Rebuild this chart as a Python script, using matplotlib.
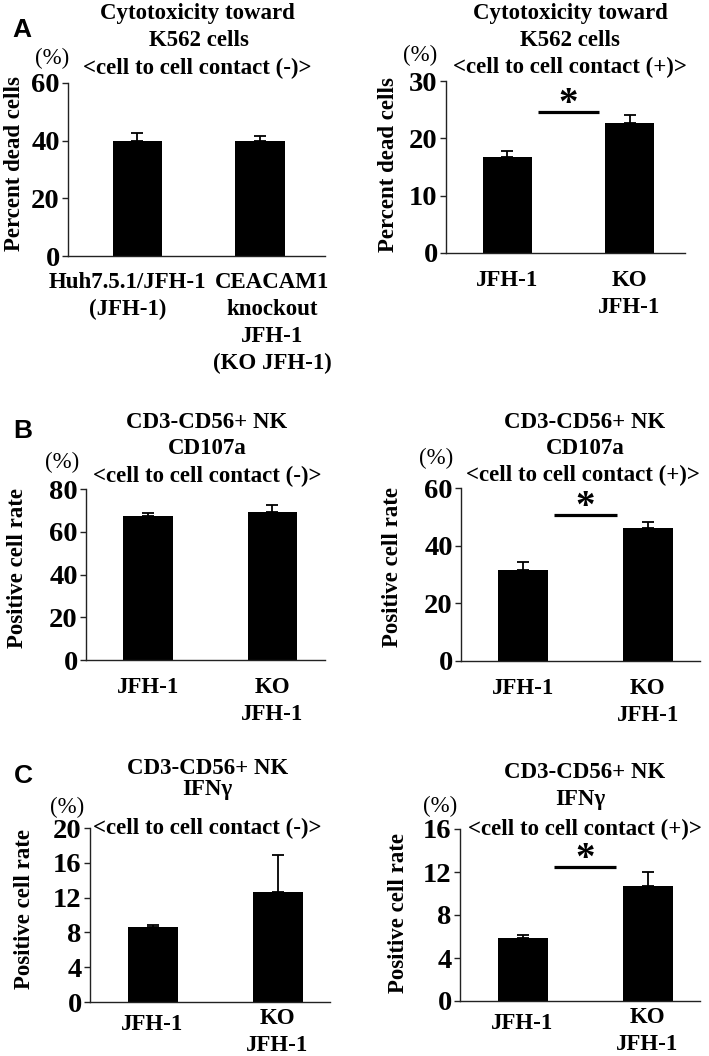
import matplotlib
matplotlib.use("Agg")
import matplotlib.pyplot as plt
from matplotlib.transforms import ScaledTranslation

W, H, DPI = 709, 1056, 100
SERIF = ["Liberation Serif", "DejaVu Serif"]
SANS = ["Liberation Sans", "DejaVu Sans"]

# ---- data ----
labels_a_minus = ["Huh7.5.1/JFH-1\n(JFH-1)", "CEACAM1\nknockout\nJFH-1\n(KO JFH-1)"]
labels_short = ["JFH-1", "KO\nJFH-1"]

dead_minus = [40.0, 39.9]
dead_minus_err = [2.8, 1.8]
dead_plus = [16.8, 22.7]
dead_plus_err = [1.0, 1.4]

cd107a_minus = [67.5, 69.1]
cd107a_minus_err = [1.1, 3.4]
cd107a_plus = [31.5, 46.3]
cd107a_plus_err = [2.7, 2.0]

ifng_minus = [8.6, 12.7]
ifng_minus_err = [0.26, 4.15]
ifng_plus = [5.9, 10.7]
ifng_plus_err = [0.28, 1.27]

fig = plt.figure(figsize=(W / DPI, H / DPI), dpi=DPI)
fig.patch.set_facecolor("white")


def fx(x):
    return x / W


def fy(y):
    return 1 - y / H


def text_px(x, y, s, size=16.5, weight="bold", family=SERIF, **kw):
    fig.text(fx(x), fy(y), s, fontsize=size, fontweight=weight, family=family,
             ha=kw.pop("ha", "center"), va=kw.pop("va", "center"), **kw)


def panel(box, xlim, means, errs, ymax, step, labels, tickpos, pad, sig=None):
    left, top, right, bottom = box
    ax = fig.add_axes([fx(left), fy(bottom), (right - left) / W, (bottom - top) / H])
    xs = list(range(len(means)))
    ax.bar(xs, means, width=0.40, color="black", zorder=2)
    ax.errorbar(xs, means, yerr=[[0] * len(errs), errs], fmt="none",
                ecolor="black", elinewidth=1.3, capsize=4.5, capthick=1.3, zorder=1)
    ax.set_xlim(*xlim)
    ax.set_ylim(0, ymax)
    ax.set_yticks(range(0, ymax + 1, step))
    ax.set_xticks(tickpos, labels)
    for sp in ("top", "right"):
        ax.spines[sp].set_visible(False)
    for sp in ("left", "bottom"):
        ax.spines[sp].set_linewidth(1.0)
        ax.spines[sp].set_color("#222222")
    ax.tick_params(axis="y", length=4, width=1.0, pad=2, labelsize=20.5, color="#222222")
    ax.tick_params(axis="x", length=0, pad=pad, labelsize=16.5)
    for lab in ax.get_yticklabels():
        lab.set_family(SERIF)
        lab.set_fontweight("bold")
    for lab in ax.get_xticklabels():
        lab.set_family(SERIF)
        lab.set_fontweight("bold")
        lab.set_linespacing(1.38)
        lab.set_va("top")
    if sig is not None:
        ax.plot([0.25, 0.75], [sig, sig], color="black", lw=2.3, solid_capstyle="butt")
        ax.annotate("*", xy=(0.5, sig), xytext=(0, -1.5), textcoords="offset points",
                    ha="center", va="baseline", fontsize=28, fontweight="bold",
                    family=SERIF)
    return ax


# ---- panel A ----
panel((68, 83, 325, 256), (-0.566, 1.53), dead_minus, dead_minus_err, 60, 20,
      labels_a_minus, [-0.08, 1.1], 11.5)
panel((446, 81, 685, 253), (-0.503, 1.454), dead_plus, dead_plus_err, 30, 10,
      labels_short, [0, 1], 12, sig=24.6)

# ---- panel B ----
panel((86, 489, 325, 660), (-0.497, 1.422), cd107a_minus, cd107a_minus_err, 80, 20,
      labels_short, [0, 1], 12)
panel((461, 488, 700, 661), (-0.5, 1.42), cd107a_plus, cd107a_plus_err, 60, 20,
      labels_short, [0, 1], 12, sig=50.7)

# ---- panel C ----
axc1 = panel((90, 828, 330, 1002), (-0.5, 1.42), ifng_minus, ifng_minus_err, 20, 4,
             labels_short, [0, 1], 4.5)
axc2 = panel((460, 829, 700, 1001), (-0.5, 1.42), ifng_plus, ifng_plus_err, 16, 4,
             labels_short, [0, 1], 4.5, sig=12.5)
for ax in (axc1, axc2):
    lab = ax.get_xticklabels()[0]
    lab.set_transform(lab.get_transform() + ScaledTranslation(0, -6 / DPI, fig.dpi_scale_trans))

# ---- titles ----
text_px(197, 13, "Cytotoxicity toward")
text_px(199, 41, "K562 cells")
text_px(197, 68, "<cell to cell contact (-)>")
text_px(570, 13, "Cytotoxicity toward")
text_px(570, 41, "K562 cells")
text_px(570, 67, "<cell to cell contact (+)>")

text_px(207, 422, "CD3-CD56+ NK")
text_px(207, 448, "CD107a")
text_px(207, 476, "<cell to cell contact (-)>")
text_px(585, 422, "CD3-CD56+ NK")
text_px(585, 448, "CD107a")
text_px(583, 475, "<cell to cell contact (+)>")

text_px(208, 768, "CD3-CD56+ NK")
text_px(207, 790, "IFN\u03b3")
text_px(207, 828, "<cell to cell contact (-)>")
text_px(585, 772, "CD3-CD56+ NK")
text_px(580, 800, "IFN\u03b3")
text_px(585, 829, "<cell to cell contact (+)>")

# ---- (%) units ----
for x, y in [(52, 58), (420, 55), (62, 462), (436, 458), (67, 807), (440, 806)]:
    text_px(x, y, "(%)", weight="normal")

# ---- y labels ----
for x, y, s in [(15, 164, "Percent dead cells"), (388, 165, "Percent dead cells"),
                (18, 568, "Positive cell rate"), (393, 567, "Positive cell rate"),
                (25, 909, "Positive cell rate"), (398, 913, "Positive cell rate")]:
    text_px(x, y, s, rotation=90)

# ---- panel letters ----
for x, y, s in [(22, 30, "A"), (23, 431, "B"), (23, 776, "C")]:
    text_px(x, y, s, size=19, family=SANS)

fig.savefig("out.png", dpi=DPI, facecolor="white")
